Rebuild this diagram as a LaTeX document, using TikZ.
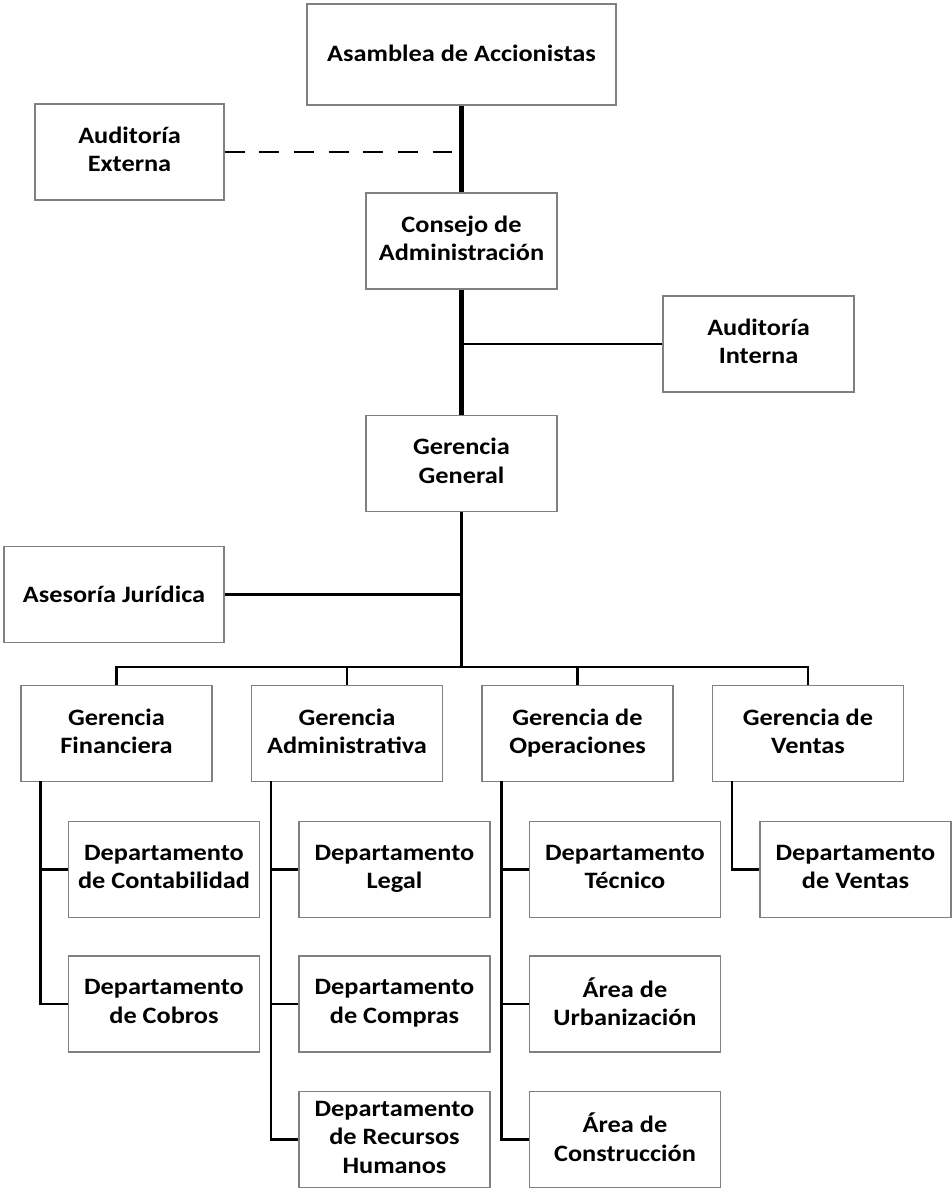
\documentclass[tikz,border=0pt]{standalone}
\usepackage{fontspec}
\setmainfont{Carlito}[FakeStretch=1.12]
\begin{document}
\begin{tikzpicture}[
    x=1pt,y=-1pt,
    unit/.style={draw=black!50,line width=1.2pt,fill=white,align=center,
                 minimum width=191pt,minimum height=96pt,inner sep=2pt,
                 font=\fontsize{23.5}{28.5}\selectfont\bfseries,
                 execute at begin node={\rule{0pt}{20pt}},
                 execute at end node={\rule[-5pt]{0pt}{5pt}}},
    link/.style={draw=black,line width=2.6pt},
    trunk/.style={draw=black,line width=5.5pt},
    advice/.style={draw=black,line width=2.6pt,dash pattern=on 20pt off 14.67pt}
  ]
    \useasboundingbox (0,0) rectangle (951,1188);

    % cupula
    \node[unit,minimum width=309pt,minimum height=101pt] (asamblea) at (461.5,54.5)
      {Asamblea de Accionistas};
    \node[unit,minimum width=189pt] (externa) at (129.5,152) {Auditoría\\Externa};
    \node[unit] (consejo) at (461.5,241) {Consejo de\\Administración};
    \node[unit] (interna) at (758.5,344) {Auditoría\\Interna};
    \node[unit] (gerencia) at (461.5,463.5) {Gerencia\\General};
    \node[unit,minimum width=220pt] (juridica) at (114,594.5) {Asesoría Jurídica};

    % gerencias
    \node[unit] (financiera) at (116.5,733.5) {Gerencia\\Financiera};
    \node[unit] (administrativa) at (347,733.5) {Gerencia\\Administrativa};
    \node[unit] (operaciones) at (577.5,733.5) {Gerencia de\\Operaciones};
    \node[unit] (ventas) at (808,733.5) {Gerencia de\\Ventas};

    % departamentos
    \node[unit] (contabilidad) at (164,869.5) {Departamento\\de Contabilidad};
    \node[unit] (cobros) at (164,1004) {Departamento\\de Cobros};
    \node[unit] (legal) at (394.5,869.5) {Departamento\\Legal};
    \node[unit] (compras) at (394.5,1004) {Departamento\\de Compras};
    \node[unit] (rrhh) at (394.5,1139.5) {Departamento\\de Recursos\\Humanos};
    \node[unit] (tecnico) at (625,869.5) {Departamento\\Técnico};
    \node[unit] (urbanizacion) at (625,1004) {Área de\\Urbanización};
    \node[unit] (construccion) at (625,1139.5) {Área de\\Construcción};
    \node[unit] (deptventas) at (855.5,869.5) {Departamento\\de Ventas};

    \coordinate (extend) at (452,152);
    \coordinate (bus) at (461.5,667);
    \coordinate (finspine) at (40.5,781);
    \coordinate (admspine) at (271,781);
    \coordinate (opsspine) at (501.5,781);
    \coordinate (venspine) at (732,781);

    \draw[trunk] (asamblea) -- (consejo);
    \draw[trunk] (consejo) -- (gerencia);
    \draw[advice] (externa) -- (extend);
    \draw[link] (interna.west) -- (interna.west -| consejo);
    \draw[link] (gerencia) -- (bus);
    \draw[link] (juridica.east) -- (juridica.east -| gerencia);

    \draw[link] (bus) -| (financiera);
    \draw[link] (bus) -| (administrativa);
    \draw[link] (bus) -| (operaciones);
    \draw[link] (bus) -| (ventas);

    \draw[link] (finspine) |- (contabilidad.west);
    \draw[link] (finspine) |- (cobros.west);
    \draw[link] (admspine) |- (legal.west);
    \draw[link] (admspine) |- (compras.west);
    \draw[link] (admspine) |- (rrhh.west);
    \draw[link] (opsspine) |- (tecnico.west);
    \draw[link] (opsspine) |- (urbanizacion.west);
    \draw[link] (opsspine) |- (construccion.west);
    \draw[link] (venspine) |- (deptventas.west);
  \end{tikzpicture}
\end{document}
